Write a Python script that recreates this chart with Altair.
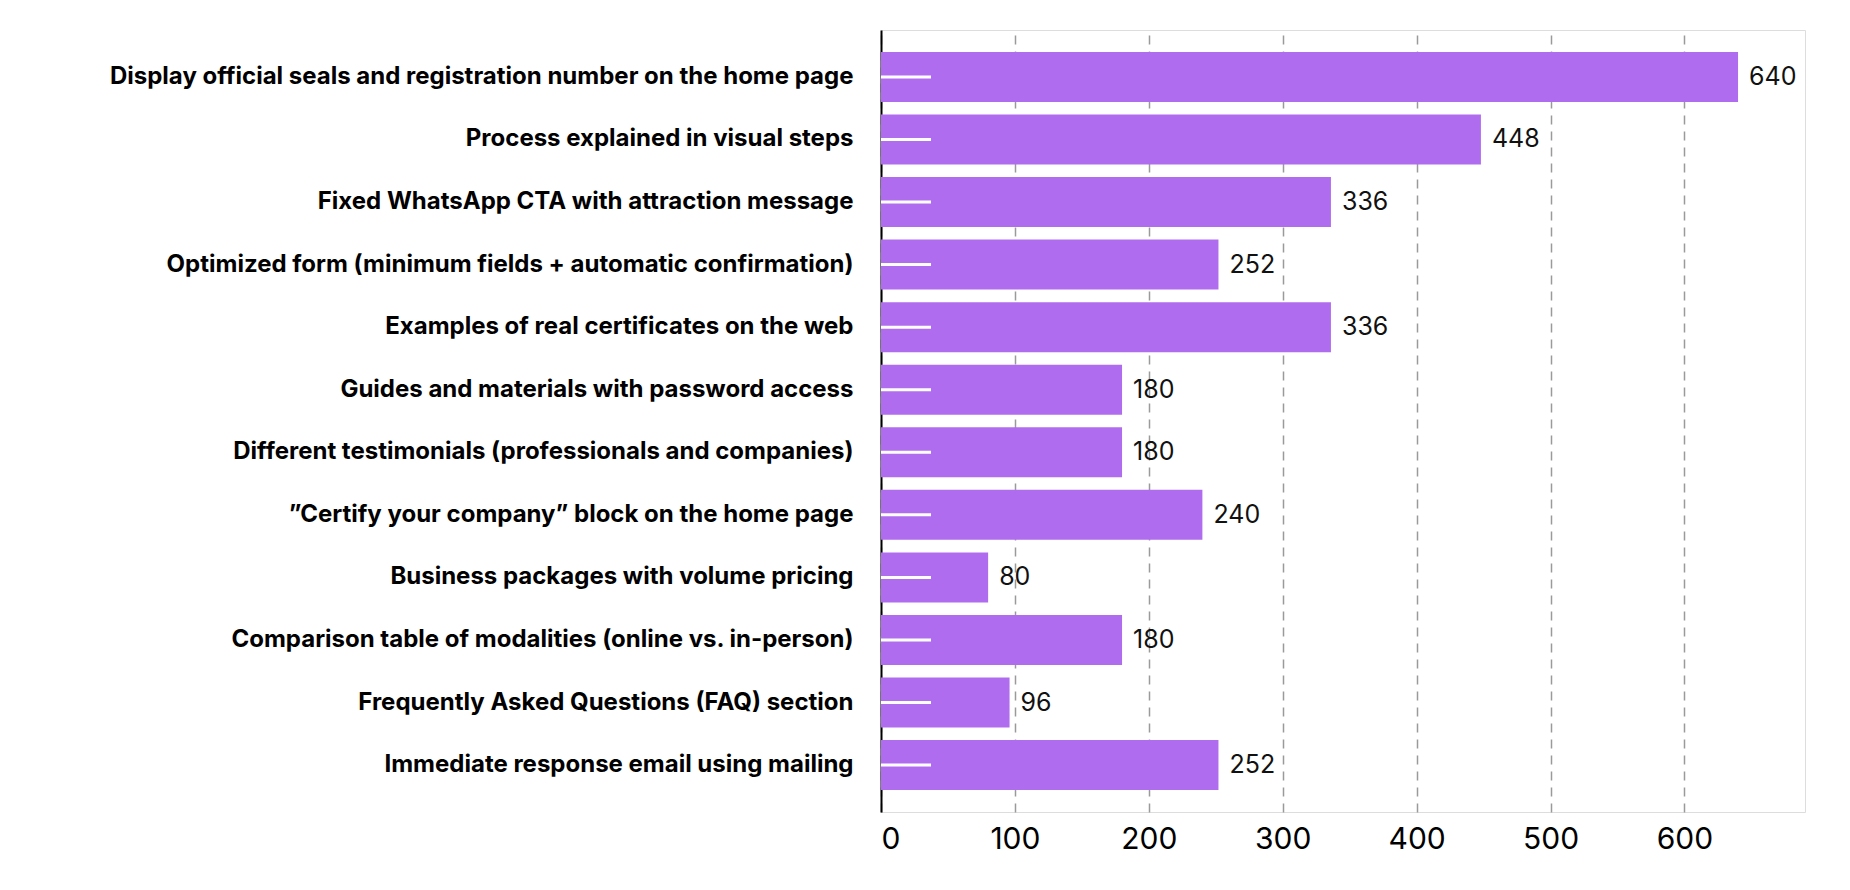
import altair as alt
import pandas as pd

# Improvement actions and their scores
actions = [
    "Display official seals and registration number on the home page",
    "Process explained in visual steps",
    "Fixed WhatsApp CTA with attraction message",
    "Optimized form (minimum fields + automatic confirmation)",
    "Examples of real certificates on the web",
    "Guides and materials with password access",
    "Different testimonials (professionals and companies)",
    "\u201dCertify your company\u201d block on the home page",
    "Business packages with volume pricing",
    "Comparison table of modalities (online vs. in-person)",
    "Frequently Asked Questions (FAQ) section",
    "Immediate response email using mailing",
]
scores = [640, 448, 336, 252, 336, 180, 180, 240, 80, 180, 96, 252]
tick_values = [0, 100, 200, 300, 400, 500, 600]

df = pd.DataFrame({"action": actions, "score": scores})

FONT = "Inter"
BAR = "#B06CEE"

y_enc = alt.Y(
    "action:N",
    sort=None,
    title=None,
    scale=alt.Scale(paddingInner=0.2, paddingOuter=0.35),
    axis=alt.Axis(
        labelFont=FONT,
        labelFontSize=24,
        labelFontWeight="bold",
        labelColor="#000000",
        labelPadding=28,
        labelLimit=900,
        ticks=False,
        grid=False,
        domain=True,
        domainColor="#000000",
        domainWidth=2,
    ),
)

x_enc = alt.X(
    "score:Q",
    title=None,
    scale=alt.Scale(domain=[0, 690], nice=False),
    axis=alt.Axis(
        values=tick_values,
        labelFont=FONT,
        labelFontSize=30,
        labelColor="#000000",
        labelPadding=12,
        ticks=False,
        domain=False,
        grid=True,
        gridColor="#9a9a9a",
        gridDash=[9, 7],
        gridWidth=1.5,
    ),
)

bars = alt.Chart(df).mark_bar(color=BAR).encode(x=x_enc, y=y_enc)

stubs = alt.Chart(df).mark_rule(color="white", strokeWidth=3).encode(
    y=alt.Y("action:N", sort=None),
    x=alt.value(0),
    x2=alt.value(50),
)

labels = alt.Chart(df).mark_text(
    align="left", baseline="middle", dx=11, font=FONT, fontSize=25, color="#111111"
).encode(
    x="score:Q",
    y=alt.Y("action:N", sort=None),
    text="score:Q",
)

chart = (
    alt.layer(bars, stubs, labels)
    .properties(
        width=924,
        height=782,
        autosize=alt.AutoSizeParams(type="none"),
        padding={"left": 881, "top": 30, "right": 45, "bottom": 78},
    )
    .configure_view(fill="#EFECF3", stroke="transparent", strokeWidth=0)
    .configure(background="white")
)

chart.save("out.html", embed_options={"renderer": "svg", "actions": False})
